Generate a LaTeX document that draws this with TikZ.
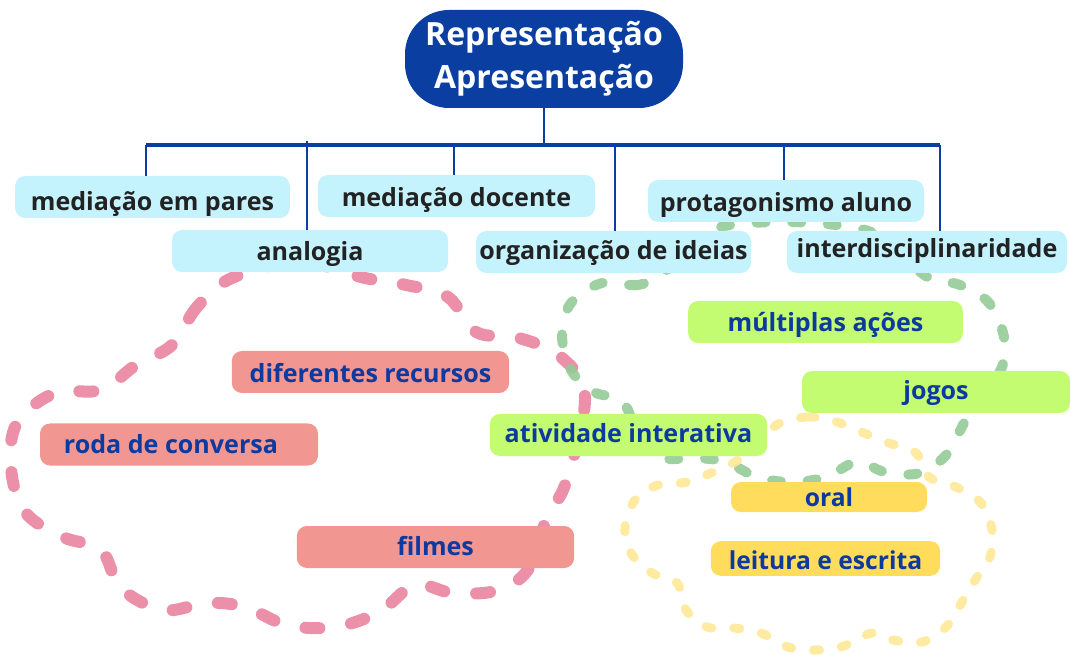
\documentclass[tikz,border=0pt]{standalone}
\usepackage{fontspec}
\setmainfont{Open Sans}
\definecolor{rootblue}{HTML}{0A3FA1}
\definecolor{cyanbox}{HTML}{C5F3FD}
\definecolor{txtdark}{HTML}{222222}
\definecolor{txtblue}{HTML}{0C3A9E}
\definecolor{pinkbox}{HTML}{F29692}
\definecolor{greenbox}{HTML}{C3FC70}
\definecolor{yellowbox}{HTML}{FFDC5B}
\definecolor{pinkloop}{HTML}{EA84A0}
\definecolor{greenloop}{HTML}{94CB98}
\definecolor{yellowloop}{HTML}{FFE897}
\begin{document}
\begin{tikzpicture}[x=0.75pt,y=-0.75pt,
  box/.style={rounded corners=7.5pt, minimum height=31.5pt, inner sep=0pt,
    text depth=0pt, text height=15pt,
    font=\fontsize{18.8}{21}\selectfont\bfseries},
  cbox/.style={box, fill=cyanbox, text=txtdark},
  pbox/.style={box, fill=pinkbox, text=txtblue},
  gbox/.style={box, fill=greenbox, text=txtblue},
  ybox/.style={box, fill=yellowbox, text=txtblue, font=\fontsize{18.5}{21}\selectfont\bfseries},
  treeline/.style={draw=rootblue, line width=1.6pt},
  busline/.style={draw=rootblue, line width=2.6pt},
  loopline/.style={line cap=round, draw opacity=0.9},
]
\useasboundingbox (0,0) rectangle (1070,655);

% dashed loops
\draw[loopline, draw=pinkloop, line width=9pt, dash pattern=on 10.5pt off 24pt]
  plot[smooth cycle, tension=0.6] coordinates {
  (232,278) (197,307) (172,345) (136,365) (101,390) (55,393) (17,423) (11,468)
  (25,512) (63,537) (101,550) (121,588) (163,610) (207,603) (245,607) (287,625)
  (335,627) (379,612) (415,585) (453,593) (499,590) (530,567) (547,517) (566,482)
  (585,397) (561,357) (519,338) (476,332) (448,297) (406,285) (365,278) (300,262)};
\draw[loopline, draw=greenloop, line width=7.5pt, dash pattern=on 6.75pt off 20pt]
  plot[smooth cycle, tension=0.6] coordinates {
  (663,273) (638,285) (602,283) (571,303) (562,335) (571,370) (594,392) (623,402)
  (640,440) (663,458) (696,458) (726,462) (757,477) (791,482) (826,477) (857,462)
  (885,472) (920,473) (948,453) (964,423) (985,390) (1002,367) (1004,337) (989,303)
  (960,285) (929,278) (895,250) (865,230) (790,222) (715,228) (685,250)};
\draw[loopline, draw=yellowloop, line width=6.75pt, dash pattern=on 4.5pt off 16.5pt]
  plot[smooth cycle, tension=0.6] coordinates {
  (780,423) (809,417) (837,422) (864,433) (889,443) (916,453) (929,477) (956,487)
  (981,503) (992,530) (990,557) (975,580) (962,602) (946,627) (922,642) (893,640)
  (872,633) (841,647) (814,650) (788,647) (761,633) (734,628) (707,627) (686,610)
  (677,583) (652,573) (631,553) (625,527) (635,500) (658,485) (688,482) (711,473)
  (738,460) (760,440)};

% root
\node[fill=rootblue, text=white, rounded corners=33pt, minimum width=208.5pt,
  minimum height=73.5pt, inner sep=0pt, align=center,
  font=\fontsize{24}{32}\selectfont\bfseries] (root) at (544,59)
  {Representação\\Apresentação};

% first level
\node[cbox, minimum width=206pt, text height=21pt] (mep) at (152.5,197) {mediação em pares};
\node[cbox, minimum width=208pt, text height=16pt] (mdoc) at (456.5,196) {mediação docente};
\node[cbox, minimum width=207pt, text height=16pt] (prot) at (786,201) {protagonismo aluno};
\node[cbox, minimum width=207pt, text height=15pt] (ana) at (310,251) {analogia};
\node[cbox, minimum width=206pt, text height=12pt] (org) at (613.5,252) {organização de ideias};
\node[cbox, minimum width=210pt, text height=9pt] (inter) at (927,252) {interdisciplinaridade};

% tree connectors
\coordinate (bus) at (546,145);
\path ([xshift=-4.9pt]mep.north) coordinate (mepT);
\path ([xshift=-1.9pt]mdoc.north) coordinate (mdocT);
\path ([xshift=-1.5pt]prot.north) coordinate (protT);
\path ([xshift=-2.25pt]ana.north) coordinate (anaT);
\path ([xshift=1.1pt]org.north) coordinate (orgT);
\path ([xshift=9.75pt]inter.north) coordinate (interT);
\draw[treeline] (root.south) -- (root.south |- bus);
\draw[busline] (mepT |- bus) -- (interT |- bus);
\draw[treeline] (mepT) -- (mepT |- bus);
\draw[treeline] (mdocT) -- (mdocT |- bus);
\draw[treeline] (protT) -- (protT |- bus);
\draw[treeline] (anaT) -- ++(0,-89);
\draw[treeline] (orgT) -- (orgT |- bus);
\draw[treeline] (interT) -- (interT |- bus);

% coloured boxes
\node[pbox, minimum width=208pt, text height=16.5pt] (difr) at (370.5,372) {diferentes recursos};
\node[pbox, minimum width=208.5pt, text height=13pt] (roda) at (179,444.5) {roda de conversa\hspace*{12pt}};
\node[pbox, minimum width=208pt, text height=12pt] (film) at (435.5,547) {filmes};
\node[gbox, minimum width=206pt, text height=14.5pt] (mult) at (825.5,322) {múltiplas ações};
\node[gbox, minimum width=201pt, text height=12pt] (jogo) at (936,392) {jogos};
\node[gbox, minimum width=208pt, text height=11.5pt] (ativ) at (628.5,435) {atividade interativa};
\node[ybox, minimum width=147pt, minimum height=22.5pt, text height=14.5pt] (oral) at (829,497) {oral};
\node[ybox, minimum width=172pt, minimum height=26pt, text height=17pt] (leit) at (825.5,558.5) {leitura e escrita};
\end{tikzpicture}
\end{document}
